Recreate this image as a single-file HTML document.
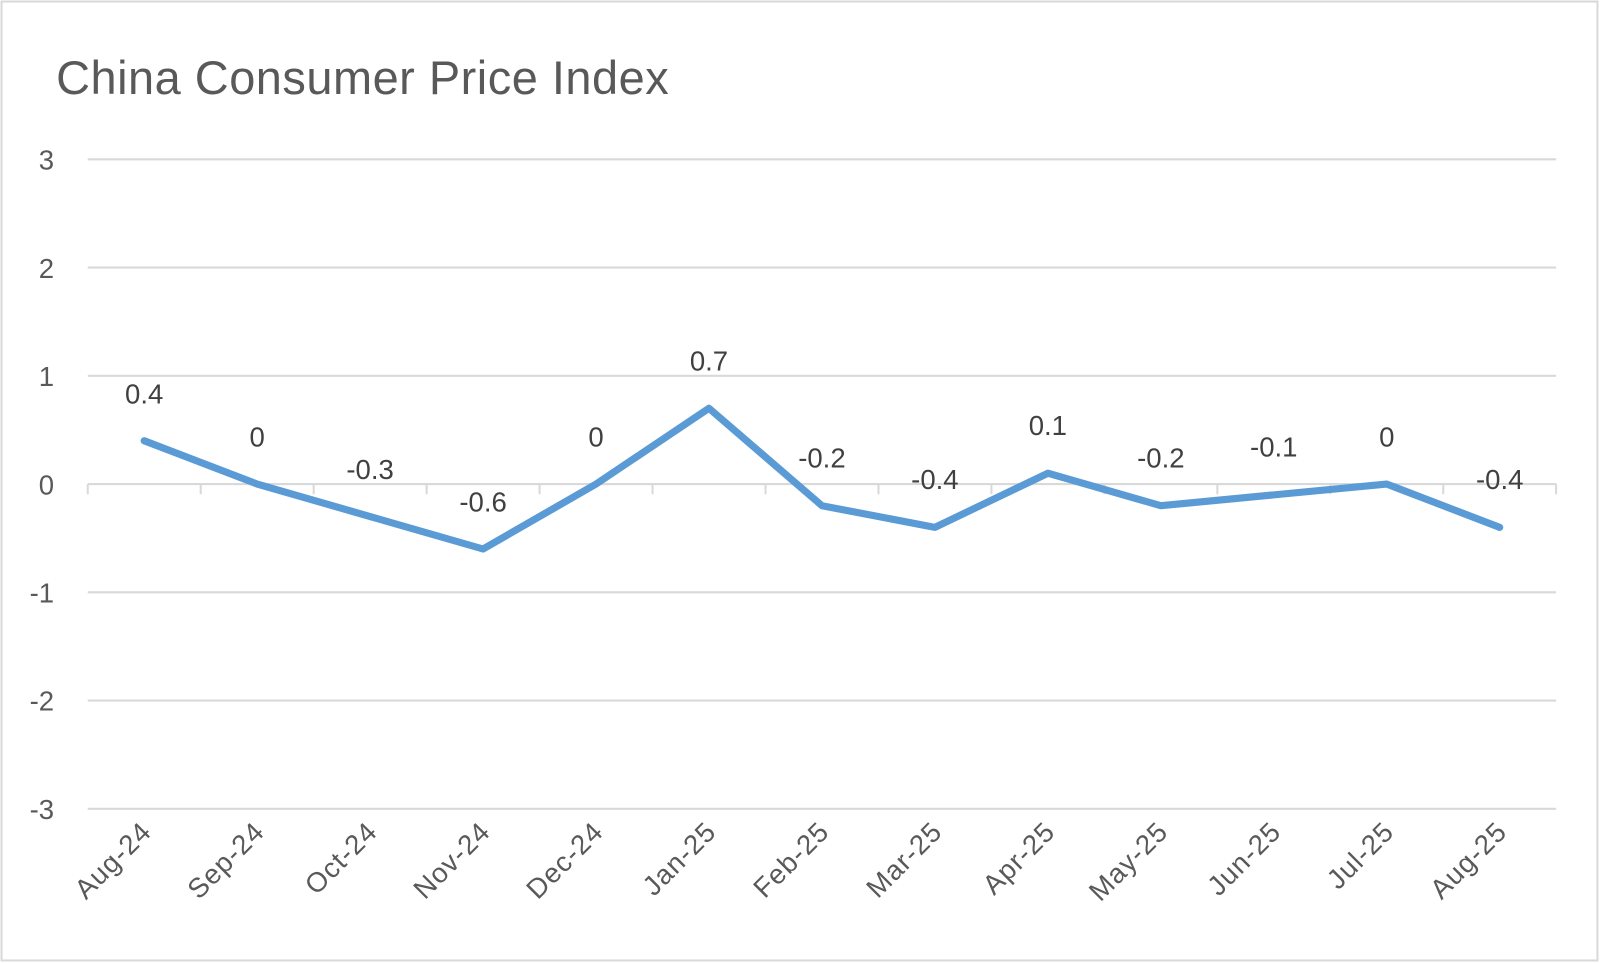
<!DOCTYPE html>
<html><head><style>body{margin:0;background:#fff}svg{display:block}</style></head><body>
<svg width="1600" height="963" viewBox="0 0 1568 943" preserveAspectRatio="none" xmlns="http://www.w3.org/2000/svg" font-family="'Liberation Sans',sans-serif">
<rect x="0" y="0" width="1568" height="943" fill="#fff"/>
<rect x="1.5" y="1.5" width="1564" height="939" fill="none" stroke="#d9d9d9" stroke-width="2"/>
<text x="55" y="92" font-size="46" fill="#595959" letter-spacing="0.5">China Consumer Price Index</text>
<g stroke="#d9d9d9" stroke-width="2">
<line x1="86" x2="1525" y1="156" y2="156"/><line x1="86" x2="1525" y1="262" y2="262"/>
<line x1="86" x2="1525" y1="368" y2="368"/><line x1="86" x2="1525" y1="474" y2="474"/>
<line x1="86" x2="1525" y1="580" y2="580"/><line x1="86" x2="1525" y1="686" y2="686"/>
<line x1="86" x2="1525" y1="792" y2="792"/>
<path d="M86 474v10M196.7 474v10M307.4 474v10M418.1 474v10M528.8 474v10M639.5 474v10M750.2 474v10M860.9 474v10M971.6 474v10M1082.3 474v10M1193 474v10M1303.7 474v10M1414.4 474v10M1525 474v10"/>
</g>
<g font-size="27" fill="#595959" text-anchor="end">
<text x="53" y="166">3</text><text x="53" y="272">2</text><text x="53" y="378">1</text>
<text x="53" y="484">0</text><text x="53" y="590">-1</text><text x="53" y="696">-2</text><text x="53" y="802">-3</text>
</g>
<polyline fill="none" stroke="#5b9bd5" stroke-width="7" stroke-linejoin="round" stroke-linecap="round"
points="141.3,431.6 252,474 362.7,505.8 473.4,537.6 584.1,474 694.8,399.8 805.5,495.2 916.2,516.4 1026.9,463.4 1137.6,495.2 1248.3,484.6 1359,474 1469.7,516.4"/>
<g font-size="27" fill="#404040" text-anchor="middle">
<text x="141.3" y="395">0.4</text><text x="252" y="437">0</text><text x="362.7" y="469">-0.3</text>
<text x="473.4" y="501">-0.6</text><text x="584.1" y="437">0</text><text x="694.8" y="363">0.7</text>
<text x="805.5" y="458">-0.2</text><text x="916.2" y="479">-0.4</text><text x="1026.9" y="426">0.1</text>
<text x="1137.6" y="458">-0.2</text><text x="1248.3" y="447">-0.1</text><text x="1359" y="437">0</text>
<text x="1469.7" y="479">-0.4</text>
</g>
<g font-size="27" fill="#595959" text-anchor="end" letter-spacing="1">
<text transform="translate(150,816) rotate(-45)">Aug-24</text>
<text transform="translate(260.7,816) rotate(-45)">Sep-24</text>
<text transform="translate(371.4,816) rotate(-45)">Oct-24</text>
<text transform="translate(482.1,816) rotate(-45)">Nov-24</text>
<text transform="translate(592.8,816) rotate(-45)">Dec-24</text>
<text transform="translate(703.5,816) rotate(-45)">Jan-25</text>
<text transform="translate(814.2,816) rotate(-45)">Feb-25</text>
<text transform="translate(924.9,816) rotate(-45)">Mar-25</text>
<text transform="translate(1035.6,816) rotate(-45)">Apr-25</text>
<text transform="translate(1146.3,816) rotate(-45)">May-25</text>
<text transform="translate(1257,816) rotate(-45)">Jun-25</text>
<text transform="translate(1367.7,816) rotate(-45)">Jul-25</text>
<text transform="translate(1478.4,816) rotate(-45)">Aug-25</text>
</g>
</svg>
</body></html>
